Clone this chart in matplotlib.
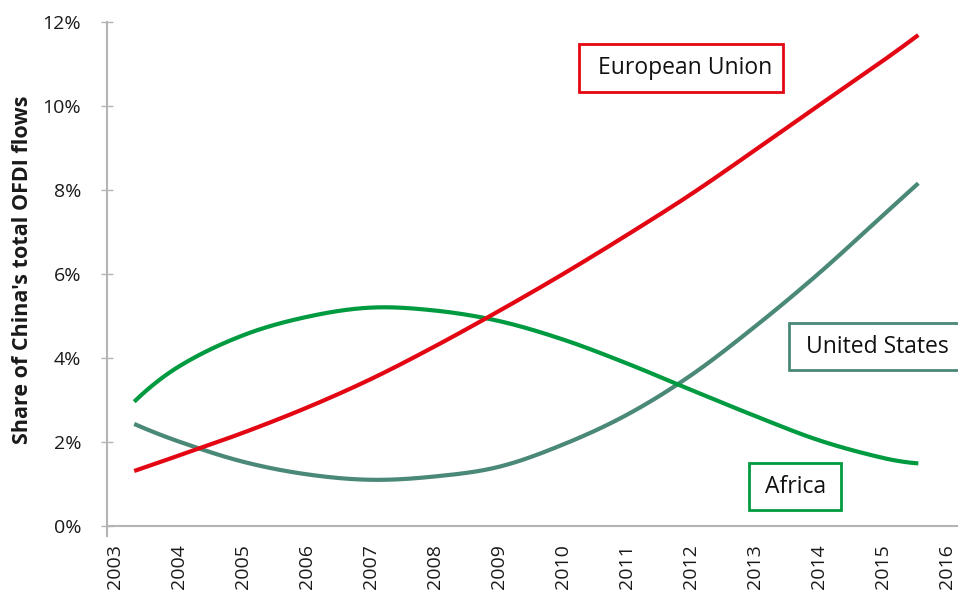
import numpy as np
import matplotlib.pyplot as plt
from matplotlib.patches import Rectangle

plt.rcParams["font.family"] = ["Open Sans", "DejaVu Sans"]

# sample points along each curve (year, share of total OFDI flows in %)
years = [2003.3, 2004, 2005, 2006, 2007, 2008, 2009, 2010, 2011, 2012, 2013, 2014, 2015, 2015.55]
eu = [1.31, 1.68, 2.22, 2.82, 3.50, 4.28, 5.12, 6.00, 6.93, 7.90, 8.95, 10.02, 11.08, 11.69]
us = [2.43, 2.01, 1.53, 1.23, 1.10, 1.18, 1.41, 1.94, 2.65, 3.59, 4.75, 6.02, 7.40, 8.16]
africa = [2.96, 3.80, 4.54, 4.98, 5.20, 5.13, 4.88, 4.44, 3.87, 3.24, 2.62, 2.04, 1.62, 1.49]

tick_years = list(range(2003, 2017))
y_ticks = [0, 2, 4, 6, 8, 10, 12]

RED = "#e30613"
TEAL = "#4a8878"
GREEN = "#009a40"


def smooth(x, y, n=400):
    # cubic Hermite through the points, slopes from neighbouring points
    x = np.asarray(x, float)
    y = np.asarray(y, float)
    m = np.empty_like(y)
    m[1:-1] = (y[2:] - y[:-2]) / (x[2:] - x[:-2])
    m[0] = 2 * (y[1] - y[0]) / (x[1] - x[0]) - m[1]
    m[-1] = 2 * (y[-1] - y[-2]) / (x[-1] - x[-2]) - m[-2]
    xs = np.linspace(x[0], x[-1], n)
    i = np.clip(np.searchsorted(x, xs) - 1, 0, len(x) - 2)
    h = x[i + 1] - x[i]
    t = (xs - x[i]) / h
    h00 = 2 * t ** 3 - 3 * t ** 2 + 1
    h10 = t ** 3 - 2 * t ** 2 + t
    h01 = -2 * t ** 3 + 3 * t ** 2
    h11 = t ** 3 - t ** 2
    ys = h00 * y[i] + h10 * h * m[i] + h01 * y[i + 1] + h11 * h * m[i + 1]
    return xs, ys


W, H = 958, 592
fig = plt.figure(figsize=(W / 100, H / 100), dpi=100)
ax = fig.add_axes([107 / W, 1 - 526 / H, (W - 107) / W, (526 - 22) / H])

for vals, color in [(us, TEAL), (africa, GREEN), (eu, RED)]:
    sx, sy = smooth(years, vals)
    ax.plot(sx, sy, color=color, linewidth=3, solid_capstyle="butt")

ax.set_xlim(2002.875, 2016.17)
ax.set_ylim(0, 12)
ax.set_xticks(tick_years)
ax.set_xticklabels([str(y) for y in tick_years], rotation=90)
ax.set_xticks([2002.875], minor=True)
ax.set_yticks(y_ticks)
ax.set_yticklabels([f"{v}%" for v in y_ticks])

grey = "#b4b4b4"
for side in ["top", "right"]:
    ax.spines[side].set_visible(False)
for side in ["left", "bottom"]:
    ax.spines[side].set_color(grey)
    ax.spines[side].set_linewidth(1.5)
ax.tick_params(axis="y", direction="inout", length=9, width=1, color=grey,
               labelsize=14, pad=14, labelcolor="#1a1a1a")
ax.tick_params(axis="x", which="major", length=0, labelsize=14, pad=13, labelcolor="#1a1a1a")
ax.tick_params(axis="x", which="minor", direction="out", length=8, width=1.5, color=grey)

fig.text(23 / W, 1 - 270 / H, "Share of China's total OFDI flows", rotation=90,
         ha="center", va="center", fontsize=15.5, fontweight="bold", color="#1a1a1a")


def label_box(x0, y0, x1, y1, tx, ty, text, color):
    fig.add_artist(Rectangle((x0 / W, 1 - y1 / H), (x1 - x0) / W, (y1 - y0) / H,
                             transform=fig.transFigure, facecolor="white",
                             edgecolor=color, linewidth=2, clip_on=False))
    fig.text(tx / W, 1 - ty / H, text, ha="left", va="center", fontsize=16.5, color="#111111")


label_box(579, 44, 783, 92, 598, 68, "European Union", RED)
label_box(789, 323, 975, 370, 806, 347, "United States", TEAL)
label_box(749, 463, 841, 510, 765, 487, "Africa", GREEN)

fig.savefig("out.png", dpi=100)
